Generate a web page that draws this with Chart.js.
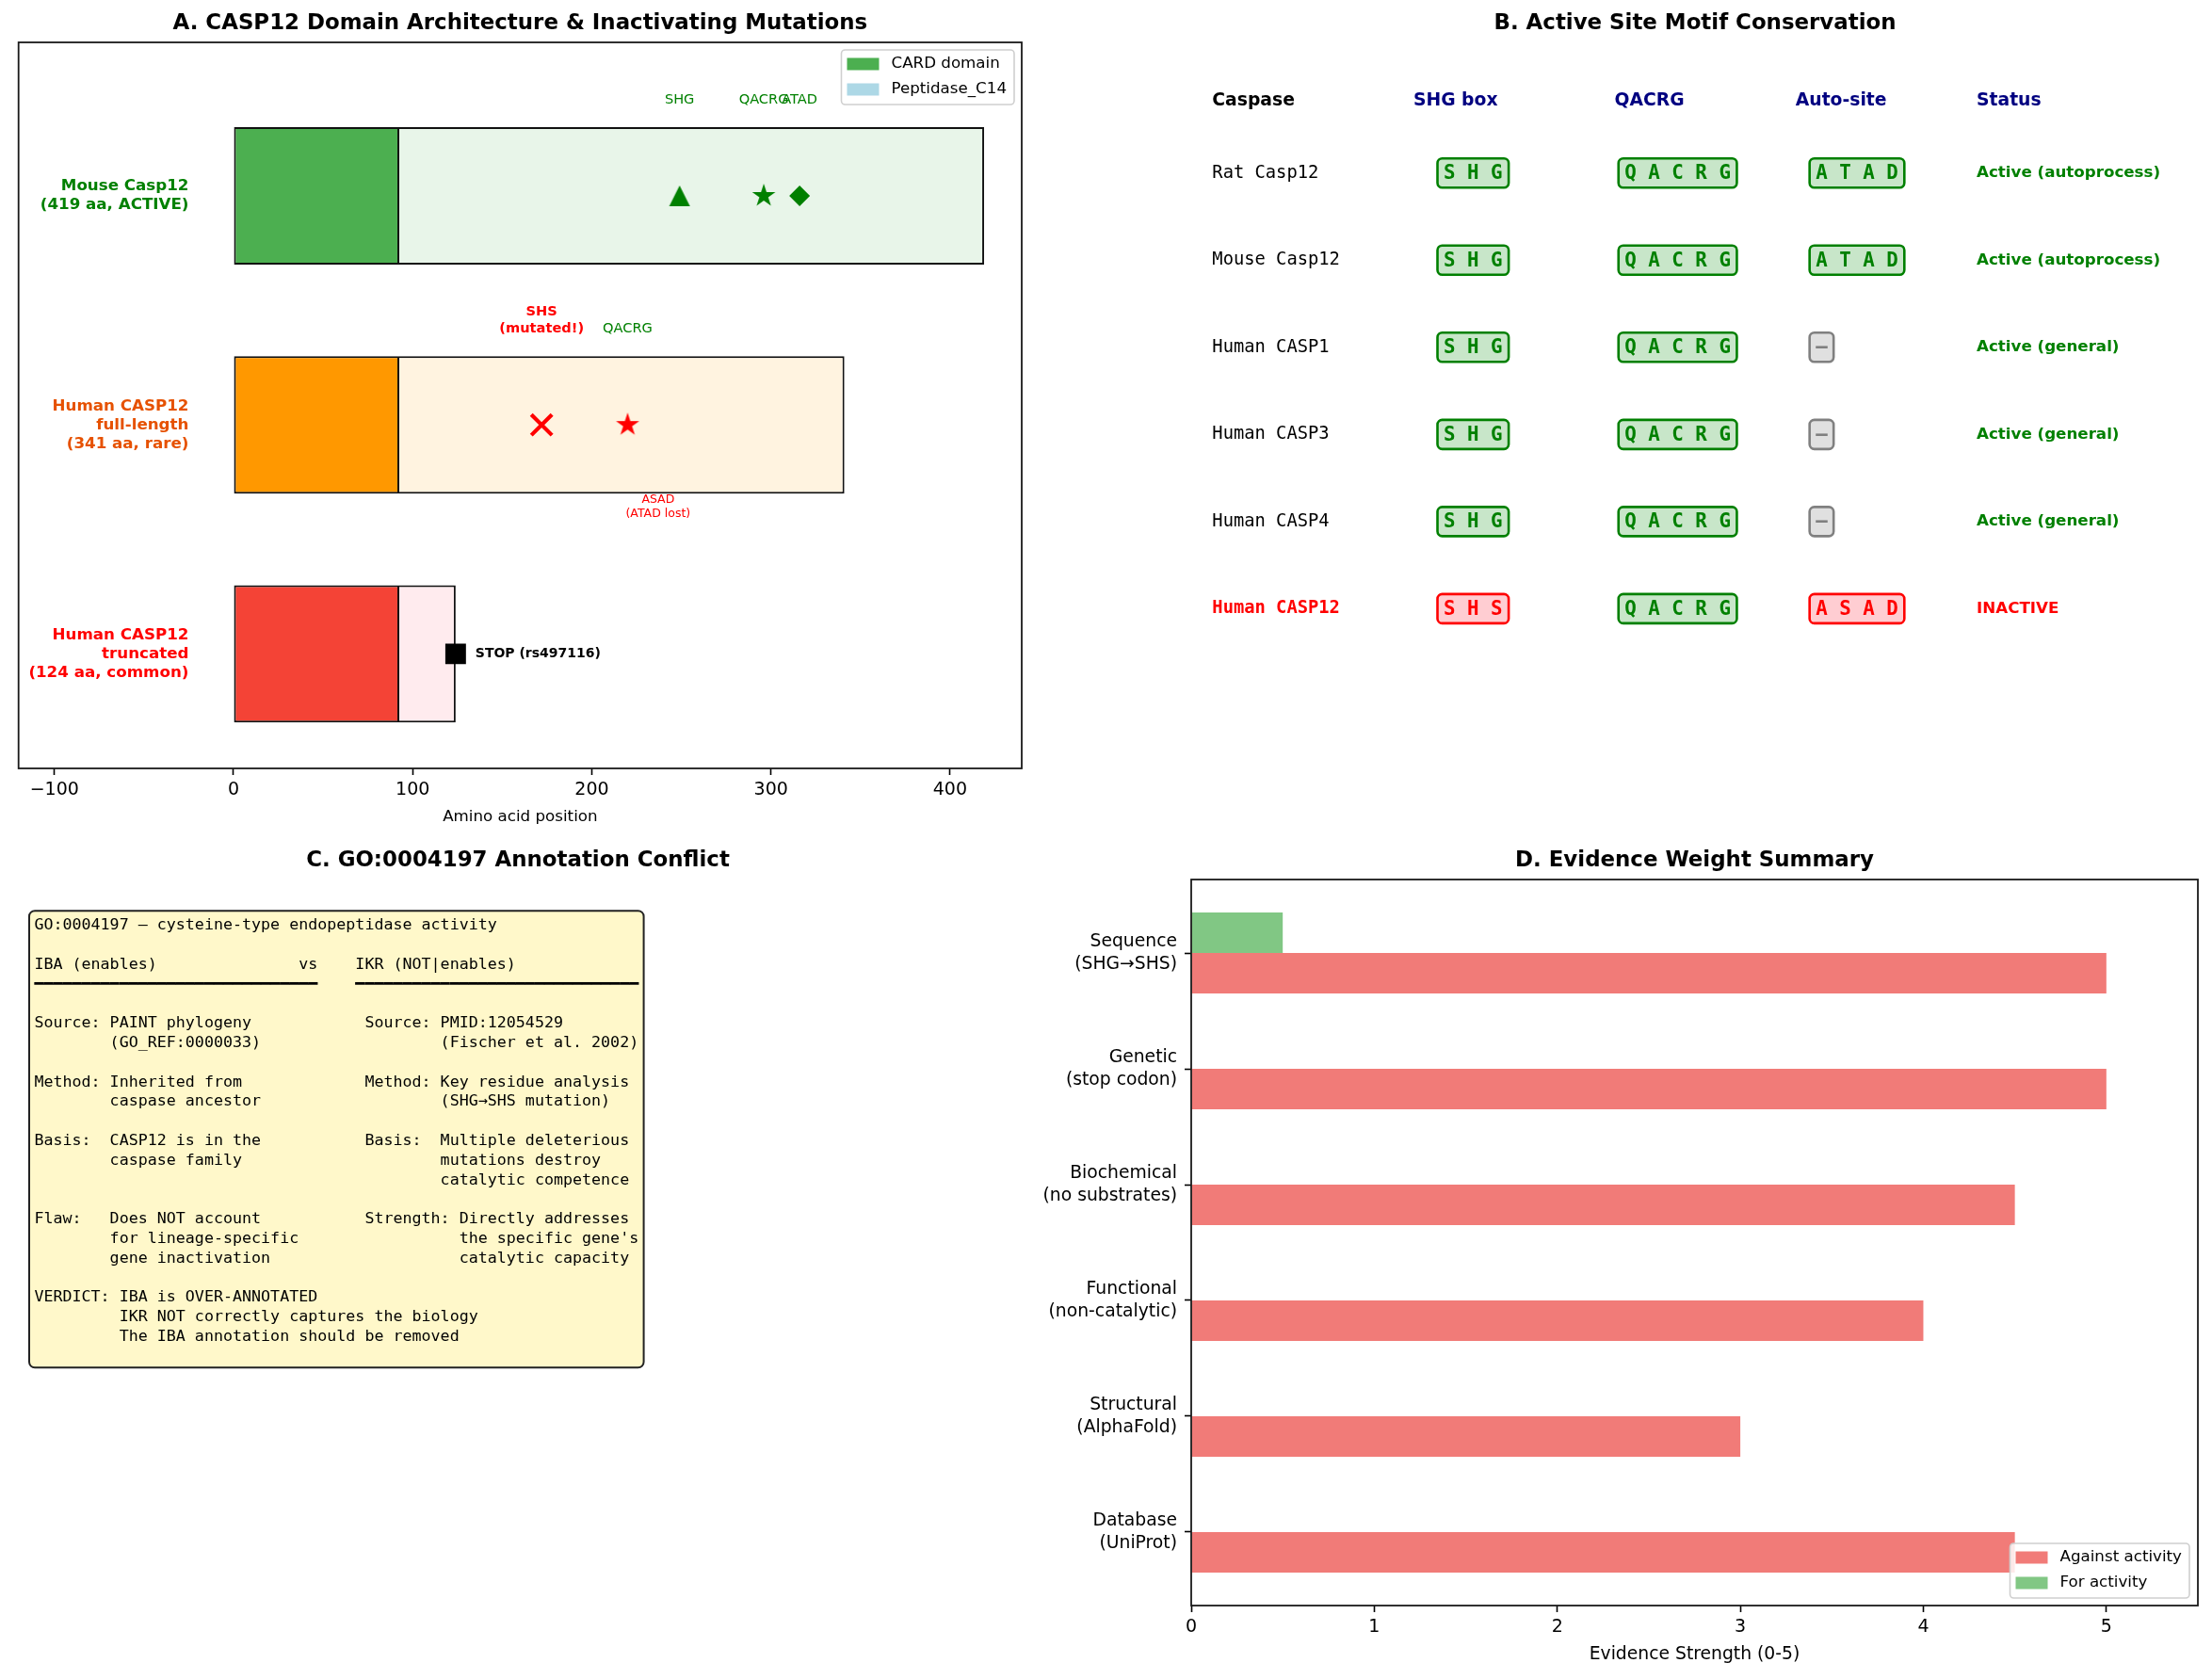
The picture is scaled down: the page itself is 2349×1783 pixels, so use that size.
<!DOCTYPE html>
<html>
<head>
<meta charset="utf-8">
<script src="https://cdn.jsdelivr.net/npm/chart.js@4.4.1/dist/chart.umd.min.js"></script>
<style>
  html, body { margin: 0; padding: 0; background: #fff; }
  #fig { position: relative; width: 2349px; height: 1783px; overflow: hidden; background: #fff; }
  #fig canvas { position: absolute; }
</style>
</head>
<body>
<div id="fig">
  <canvas id="chartA" width="1175" height="891" style="left:0px;top:0px"></canvas>
  <canvas id="chartB" width="1174" height="891" style="left:1175px;top:0px"></canvas>
  <canvas id="chartC" width="1175" height="892" style="left:0px;top:891px"></canvas>
  <canvas id="chartD" width="1249" height="892" style="left:1100px;top:891px"></canvas>
</div>
<script>

/******************************************************************
DATA
******************************************************************/

// A. domain architecture
var A_PROTEINS = ['Mouse Casp12\n(419 aa, ACTIVE)', 'Human CASP12\nfull-length\n(341 aa, rare)', 'Human CASP12\ntruncated\n(124 aa, common)'];
var A_ROW = [2, 1, 0];
var A_LENGTH = [419, 341, 124];
var A_CARD_END = [92, 92, 92];
var A_X_TICKS = [-100, 0, 100, 200, 300, 400];
var MOUSE_MOTIFS = ['SHG', 'QACRG', 'ATAD'];
var MOUSE_MOTIF_POS = [249, 296, 316];
var HUMAN_MOTIFS = ['SHS\n(mutated!)', 'QACRG', 'ASAD\n(ATAD lost)'];
var HUMAN_MOTIF_POS = [172, 220, 237];
var STOP_POS = 124;
var STOP_LABEL = 'STOP (rs497116)';

// B. motif table
var B_HEADERS = ['Caspase', 'SHG box', 'QACRG', 'Auto-site', 'Status'];
var B_CASPASES = ['Rat Casp12', 'Mouse Casp12', 'Human CASP1', 'Human CASP3', 'Human CASP4', 'Human CASP12'];
var B_SHG = ['SHG', 'SHG', 'SHG', 'SHG', 'SHG', 'SHS'];
var B_QACRG = ['QACRG', 'QACRG', 'QACRG', 'QACRG', 'QACRG', 'QACRG'];
var B_AUTO = ['ATAD', 'ATAD', '\u2013', '\u2013', '\u2013', 'ASAD'];
var B_STATUS = ['Active (autoprocess)', 'Active (autoprocess)', 'Active (general)', 'Active (general)', 'Active (general)', 'INACTIVE'];
var B_REFERENCE = ['SHG', 'QACRG', 'ATAD'];

// C. annotation conflict text
var C_LINES = [
  'GO:0004197 \u2013 cysteine-type endopeptidase activity',
  '',
  'IBA (enables)'.padEnd(28) + 'vs    IKR (NOT|enables)',
  '\u2501'.repeat(30) + '    ' + '\u2501'.repeat(30),
  '',
  'Source: PAINT phylogeny'.padEnd(35) + 'Source: PMID:12054529',
  '        (GO_REF:0000033)'.padEnd(43) + '(Fischer et al. 2002)',
  '',
  'Method: Inherited from'.padEnd(35) + 'Method: Key residue analysis',
  '        caspase ancestor'.padEnd(43) + '(SHG\u2192SHS mutation)',
  '',
  'Basis:  CASP12 is in the'.padEnd(35) + 'Basis:  Multiple deleterious',
  '        caspase family'.padEnd(43) + 'mutations destroy',
  ''.padEnd(43) + 'catalytic competence',
  '',
  'Flaw:   Does NOT account'.padEnd(35) + 'Strength: Directly addresses',
  '        for lineage-specific'.padEnd(45) + "the specific gene's",
  '        gene inactivation'.padEnd(45) + 'catalytic capacity',
  '',
  'VERDICT: IBA is OVER-ANNOTATED',
  '         IKR NOT correctly captures the biology',
  '         The IBA annotation should be removed',
  ''
];

// D. evidence weights
var D_CATEGORIES = [['Sequence', '(SHG\u2192SHS)'], ['Genetic', '(stop codon)'], ['Biochemical', '(no substrates)'],
                    ['Functional', '(non-catalytic)'], ['Structural', '(AlphaFold)'], ['Database', '(UniProt)']];
var D_AGAINST = [5, 5, 4.5, 4, 3, 4.5];
var D_FOR = [0.5, 0, 0, 0, 0, 0];
var D_X_TICKS = [0, 1, 2, 3, 4, 5];


/******************************************************************
STYLE + HELPERS
******************************************************************/

var SANS = '"DejaVu Sans", sans-serif';
var MONO = '"DejaVu Sans Mono", monospace';
var CARD_COLORS = ['#4CAF50', '#FF9800', '#F44336'];
var PEP_COLORS = ['#E8F5E9', '#FFF3E0', '#FFEBEE'];
var A_LABEL_COLORS = ['green', '#E65100', 'red'];
var AGAINST_COLOR = 'rgba(236, 72, 68, 0.72)';
var FOR_COLOR = 'rgba(76, 175, 80, 0.7)';

Chart.defaults.font.family = SANS;
Chart.defaults.color = '#000';

var tickGrid = { display: true, drawOnChartArea: false, drawTicks: true, tickLength: 7, offset: false,
                 tickColor: '#000', tickWidth: 1.6, color: 'rgba(0,0,0,0)' };

function fmtMinus(v) { return v < 0 ? '\u2212' + (-v) : '' + v; }

function multiline(ctx, str, x, firstY, lh) {
  str.split('\n').forEach(function (s, k) { ctx.fillText(s, x, firstY + k * lh); });
}

function panelTitle(chart, text) {
  var ctx = chart.ctx, a = chart.chartArea;
  ctx.save();
  ctx.font = 'bold 22.9px ' + SANS;
  ctx.fillStyle = '#000';
  ctx.textAlign = 'center';
  ctx.textBaseline = 'middle';
  ctx.fillText(text, (a.left + a.right) / 2, a.top - 20);
  ctx.restore();
}

function frame(chart) {
  var ctx = chart.ctx, a = chart.chartArea;
  ctx.save();
  ctx.strokeStyle = '#1a1a1a';
  ctx.lineWidth = 1.8;
  ctx.strokeRect(a.left, a.top, a.right - a.left, a.bottom - a.top);
  ctx.restore();
}

function xLabel(chart, text, size) {
  var ctx = chart.ctx, a = chart.chartArea;
  ctx.save();
  ctx.font = size + 'px ' + SANS;
  ctx.fillStyle = '#000';
  ctx.textAlign = 'center';
  ctx.textBaseline = 'middle';
  ctx.fillText(text, (a.left + a.right) / 2, a.bottom + 52);
  ctx.restore();
}

function legendBox(ctx, items, right, top) {
  ctx.save();
  ctx.font = '16.7px ' + SANS;
  var tw = 0;
  items.forEach(function (it) { tw = Math.max(tw, ctx.measureText(it.label).width); });
  var w = 53 + tw + 8, h = 58, left = right - w;
  ctx.fillStyle = 'rgba(255,255,255,0.85)';
  ctx.strokeStyle = '#cfcfcf';
  ctx.lineWidth = 1.6;
  ctx.beginPath();
  ctx.roundRect(left, top, w, h, 4);
  ctx.fill();
  ctx.stroke();
  ctx.textAlign = 'left';
  ctx.textBaseline = 'middle';
  items.forEach(function (it, k) {
    var cy = top + 15 + k * 27;
    ctx.fillStyle = it.color;
    ctx.fillRect(left + 6, cy - 6.5, 34, 13);
    ctx.fillStyle = '#000';
    ctx.fillText(it.label, left + 53, cy);
  });
  ctx.restore();
}

function makeStar(color, r) {
  var s = Math.ceil(2 * r + 2), c = document.createElement('canvas');
  c.width = s; c.height = s;
  var g = c.getContext('2d');
  g.fillStyle = color;
  g.beginPath();
  for (var k = 0; k < 10; k++) {
    var rr = k % 2 ? r * 0.382 : r, ang = -Math.PI / 2 + k * Math.PI / 5;
    g.lineTo(s / 2 + rr * Math.cos(ang), s / 2 + rr * Math.sin(ang));
  }
  g.closePath();
  g.fill();
  return c;
}

function makeTriangle(color, size) {
  var s = Math.ceil(size + 2), c = document.createElement('canvas');
  c.width = s; c.height = s;
  var g = c.getContext('2d');
  g.fillStyle = color;
  g.beginPath();
  g.moveTo(s / 2, 1);
  g.lineTo(1, s - 1);
  g.lineTo(s - 1, s - 1);
  g.closePath();
  g.fill();
  return c;
}

var baseOpts = { responsive: false, animation: false, devicePixelRatio: 1, events: [] };


/******************************************************************
A. DOMAIN ARCHITECTURE
******************************************************************/

var markerPts = MOUSE_MOTIF_POS.map(function (x) { return { x: x, y: A_ROW[0] }; })
  .concat(HUMAN_MOTIF_POS.slice(0, 2).map(function (x) { return { x: x, y: A_ROW[1] }; }))
  .concat([{ x: STOP_POS, y: A_ROW[2] }]);

var panelA = {
  id: 'panelA',
  afterDraw: function (chart) {
    var ctx = chart.ctx, X = chart.scales.x, Y = chart.scales.y;
    var px = function (v) { return X.getPixelForValue(v); };
    var py = function (v) { return Y.getPixelForValue(v); };
    ctx.save();
    ctx.textBaseline = 'middle';

    // protein names
    ctx.textAlign = 'right';
    ctx.font = 'bold 16.7px ' + SANS;
    A_PROTEINS.forEach(function (name, i) {
      var n = name.split('\n').length;
      ctx.fillStyle = A_LABEL_COLORS[i];
      multiline(ctx, name, px(-25), py(A_ROW[i]) - (n - 1) * 10, 20);
    });

    // mouse motif labels
    ctx.textAlign = 'center';
    ctx.font = '14.6px ' + SANS;
    ctx.fillStyle = 'green';
    MOUSE_MOTIFS.forEach(function (m, j) {
      ctx.fillText(m, px(MOUSE_MOTIF_POS[j]), py(A_ROW[0] + 0.42));
    });

    // human motif labels
    ctx.font = 'bold 14.6px ' + SANS;
    ctx.fillStyle = 'red';
    multiline(ctx, HUMAN_MOTIFS[0], px(HUMAN_MOTIF_POS[0]), py(A_ROW[1] + 0.42) - 17.5, 17.5);
    ctx.font = '14.6px ' + SANS;
    ctx.fillStyle = 'green';
    ctx.fillText(HUMAN_MOTIFS[1], px(HUMAN_MOTIF_POS[1]), py(A_ROW[1] + 0.42));
    ctx.font = '12.5px ' + SANS;
    ctx.fillStyle = 'red';
    multiline(ctx, HUMAN_MOTIFS[2], px(HUMAN_MOTIF_POS[2]), py(A_ROW[1] - 0.3) + 7, 14.5);

    // stop codon
    ctx.textAlign = 'left';
    ctx.font = 'bold 14px ' + SANS;
    ctx.fillStyle = '#000';
    ctx.fillText(STOP_LABEL, px(STOP_POS + 11), py(A_ROW[2]));
    ctx.restore();

    legendBox(ctx, [{ label: 'CARD domain', color: '#4CAF50' }, { label: 'Peptidase_C14', color: '#ADD8E6' }],
              chart.chartArea.right - 8, chart.chartArea.top + 8);
    frame(chart);
    panelTitle(chart, 'A. CASP12 Domain Architecture & Inactivating Mutations');
    xLabel(chart, 'Amino acid position', 16.7);
  }
};

new Chart(document.getElementById('chartA'), {
  type: 'bar',
  data: {
    datasets: [
      {
        label: 'CARD domain', grouped: false, order: 2,
        data: A_ROW.map(function (y, i) { return { x: [0, A_CARD_END[i]], y: y }; }),
        backgroundColor: CARD_COLORS, borderColor: '#111', borderSkipped: false,
        borderWidth: { top: 2, right: 1, bottom: 2, left: 2 },
        categoryPercentage: 0.6, barPercentage: 1
      },
      {
        label: 'Peptidase_C14', grouped: false, order: 2,
        data: A_ROW.map(function (y, i) { return { x: [A_CARD_END[i], A_LENGTH[i]], y: y }; }),
        backgroundColor: PEP_COLORS, borderColor: '#111', borderSkipped: false,
        borderWidth: { top: 2, right: 2, bottom: 2, left: 1 },
        categoryPercentage: 0.6, barPercentage: 1
      },
      {
        type: 'scatter', label: 'motifs', data: markerPts, order: 0,
        pointStyle: [makeTriangle('green', 22), makeStar('green', 13), 'rectRot', 'crossRot', makeStar('red', 13), 'rect'],
        pointRadius: [11, 13, 11, 15.5, 13, 15.5],
        pointBackgroundColor: ['green', 'green', 'green', 'red', 'red', '#000'],
        pointBorderColor: ['green', 'green', 'green', 'red', 'red', '#000'],
        pointBorderWidth: [0, 0, 0, 4.2, 0, 0]
      }
    ]
  },
  options: Object.assign({}, baseOpts, {
    indexAxis: 'y',
    layout: { padding: { left: 15, right: 90, top: 45, bottom: 0 } },
    plugins: { legend: { display: false }, tooltip: { enabled: false } },
    scales: {
      x: {
        type: 'linear', min: -120, max: 440, offset: false,
        afterBuildTicks: function (s) { s.ticks = A_X_TICKS.map(function (v) { return { value: v }; }); },
        afterFit: function (s) { s.height = 75; },
        ticks: { callback: fmtMinus, font: { size: 19 }, color: '#000', padding: 5, maxRotation: 0 },
        grid: tickGrid, border: { display: false }
      },
      y: {
        type: 'linear', min: -0.5, max: 2.67, display: false, offset: false,
        ticks: { includeBounds: false, stepSize: 1 },
        grid: { offset: false },
        afterBuildTicks: function (s) { s.ticks = A_ROW.map(function (v) { return { value: v }; }); }
      }
    }
  }),
  plugins: [panelA]
});


/******************************************************************
B. ACTIVE SITE MOTIF TABLE
******************************************************************/

var B_COL_X = [0.02, 0.22, 0.42, 0.60, 0.78];
var B_BOX_X = [0.25, 0.43, 0.62];

function motifBox(ctx, motif, ref, x, y) {
  var face = '#C8E6C9', edge = 'green';
  if (motif === '\u2013') { face = '#E0E0E0'; edge = 'grey'; }
  else if (motif !== ref) { face = '#FFCDD2'; edge = 'red'; }
  var txt = motif.split('').join(' ');
  ctx.font = 'bold 20.8px ' + MONO;
  var w = ctx.measureText(txt).width;
  ctx.fillStyle = face;
  ctx.strokeStyle = edge;
  ctx.lineWidth = 2.6;
  ctx.beginPath();
  ctx.roundRect(x - 6.5, y - 15.5, w + 13, 31, 5);
  ctx.fill();
  ctx.stroke();
  ctx.fillStyle = edge;
  ctx.textAlign = 'left';
  ctx.fillText(txt, x, y + 1);
}

var panelB = {
  id: 'panelB',
  afterDraw: function (chart) {
    var ctx = chart.ctx, X = chart.scales.x, Y = chart.scales.y;
    var px = function (v) { return X.getPixelForValue(v); };
    var py = function (v) { return Y.getPixelForValue(v); };
    ctx.save();
    ctx.textBaseline = 'middle';
    ctx.textAlign = 'left';
    ctx.font = 'bold 18.75px ' + SANS;
    B_HEADERS.forEach(function (h, c) {
      ctx.fillStyle = c === 0 ? '#000' : '#000080';
      ctx.fillText(h, px(B_COL_X[c]), py(0.92));
    });
    B_CASPASES.forEach(function (name, i) {
      var y = py(0.82 - 0.12 * i);
      var inactive = B_STATUS[i] === 'INACTIVE';
      ctx.textAlign = 'left';
      ctx.font = (inactive ? 'bold ' : '') + '18.75px ' + MONO;
      ctx.fillStyle = inactive ? 'red' : '#000';
      ctx.fillText(name, px(B_COL_X[0]), y);
      motifBox(ctx, B_SHG[i], B_REFERENCE[0], px(B_BOX_X[0]), y);
      motifBox(ctx, B_QACRG[i], B_REFERENCE[1], px(B_BOX_X[1]), y);
      motifBox(ctx, B_AUTO[i], B_REFERENCE[2], px(B_BOX_X[2]), y);
      ctx.textAlign = 'left';
      ctx.font = 'bold 16.7px ' + SANS;
      ctx.fillStyle = inactive ? 'red' : 'green';
      ctx.fillText(B_STATUS[i], px(B_COL_X[4]), y);
    });
    ctx.restore();
    panelTitle(chart, 'B. Active Site Motif Conservation');
  }
};

new Chart(document.getElementById('chartB'), {
  type: 'scatter',
  data: { datasets: [] },
  options: Object.assign({}, baseOpts, {
    layout: { padding: { left: 91, right: 15, top: 45, bottom: 75 } },
    plugins: { legend: { display: false }, tooltip: { enabled: false } },
    scales: {
      x: { type: 'linear', min: 0, max: 1, display: false, offset: false },
      y: { type: 'linear', min: 0, max: 1, display: false, offset: false }
    }
  }),
  plugins: [panelB]
});


/******************************************************************
C. ANNOTATION CONFLICT TEXT BOX
******************************************************************/

var panelC = {
  id: 'panelC',
  afterDraw: function (chart) {
    var ctx = chart.ctx, X = chart.scales.x, Y = chart.scales.y;
    var x0 = X.getPixelForValue(0.02), y0 = Y.getPixelForValue(0.95);
    var lh = 20.8, pad = 5.4;
    ctx.save();
    ctx.font = '16.67px ' + MONO;
    var w = 0;
    C_LINES.forEach(function (l) { w = Math.max(w, ctx.measureText(l).width); });
    ctx.fillStyle = '#FFF8CA';
    ctx.strokeStyle = '#222';
    ctx.lineWidth = 2;
    ctx.beginPath();
    ctx.roundRect(x0 - pad, y0 - pad, w + 2 * pad, C_LINES.length * lh + 2 * pad - 4, 6);
    ctx.fill();
    ctx.stroke();
    ctx.fillStyle = '#000';
    ctx.textAlign = 'left';
    ctx.textBaseline = 'middle';
    C_LINES.forEach(function (l, k) { ctx.fillText(l, x0, y0 + lh / 2 + k * lh); });
    ctx.restore();
    panelTitle(chart, 'C. GO:0004197 Annotation Conflict');
  }
};

new Chart(document.getElementById('chartC'), {
  type: 'scatter',
  data: { datasets: [] },
  options: Object.assign({}, baseOpts, {
    layout: { padding: { left: 15, right: 90, top: 43, bottom: 78 } },
    plugins: { legend: { display: false }, tooltip: { enabled: false } },
    scales: {
      x: { type: 'linear', min: 0, max: 1, display: false, offset: false },
      y: { type: 'linear', min: 0, max: 1, display: false, offset: false }
    }
  }),
  plugins: [panelC]
});


/******************************************************************
D. EVIDENCE WEIGHT SUMMARY
******************************************************************/

var panelD = {
  id: 'panelD',
  afterDraw: function (chart) {
    var a = chart.chartArea;
    frame(chart);
    legendBox(chart.ctx, [{ label: 'Against activity', color: AGAINST_COLOR }, { label: 'For activity', color: FOR_COLOR }],
              a.right - 9, a.bottom - 8 - 58);
    panelTitle(chart, 'D. Evidence Weight Summary');
    xLabel(chart, 'Evidence Strength (0-5)', 18.75);
  }
};

new Chart(document.getElementById('chartD'), {
  type: 'bar',
  data: {
    datasets: [
      { label: 'For activity', data: D_FOR.map(function (v, i) { return { x: v, y: i }; }),
        backgroundColor: FOR_COLOR, borderWidth: 0, categoryPercentage: 0.7, barPercentage: 1 },
      { label: 'Against activity', data: D_AGAINST.map(function (v, i) { return { x: v, y: i }; }),
        backgroundColor: AGAINST_COLOR, borderWidth: 0, categoryPercentage: 0.7, barPercentage: 1 }
    ]
  },
  options: Object.assign({}, baseOpts, {
    indexAxis: 'y',
    layout: { padding: { left: 0, right: 15, top: 43, bottom: 0 } },
    plugins: { legend: { display: false }, tooltip: { enabled: false } },
    scales: {
      x: {
        type: 'linear', min: 0, max: 5.5, offset: false,
        afterBuildTicks: function (s) { s.ticks = D_X_TICKS.map(function (v) { return { value: v }; }); },
        afterFit: function (s) { s.height = 78; },
        ticks: { font: { size: 19 }, color: '#000', padding: 5, maxRotation: 0 },
        grid: tickGrid, border: { display: false }
      },
      y: {
        type: 'linear', min: -0.635, max: 5.635, reverse: true, offset: false,
        afterBuildTicks: function (s) { s.ticks = D_CATEGORIES.map(function (c, i) { return { value: i }; }); },
        afterFit: function (s) { s.width = 165; },
        ticks: { callback: function (v) { return D_CATEGORIES[v]; }, font: { size: 18.75, lineHeight: 1.25 },
                 color: '#000', padding: 8, autoSkip: false },
        grid: tickGrid, border: { display: false }
      }
    }
  }),
  plugins: [panelD]
});

</script>
</body>
</html>
